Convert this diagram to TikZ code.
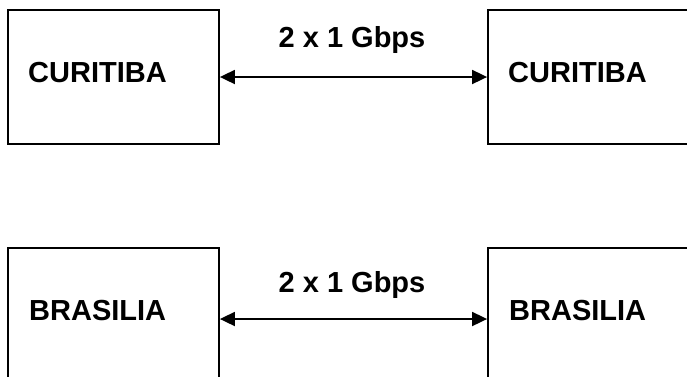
\documentclass[tikz,border=0pt]{standalone}
\usepackage{fontspec}
\setmainfont{Liberation Sans}
\usetikzlibrary{arrows.meta}
\begin{document}
\begin{tikzpicture}[x=1pt,y=-1pt,
  site/.style={draw=black,line width=1.8pt,rectangle,inner sep=0pt,minimum width=211pt},
  lbl/.style={font=\fontsize{29}{34}\selectfont\bfseries,inner sep=0pt,anchor=base west},
  link/.style={line width=1.8pt,{Triangle[length=15pt,width=14pt]}-{Triangle[length=15pt,width=14pt]}},
  speed/.style={font=\fontsize{29}{34}\selectfont\bfseries,inner sep=0pt,anchor=base}]
\useasboundingbox (0,0) rectangle (687,376);
\clip (0,0) rectangle (687,376);
\fill[white] (0,0) rectangle (687,376);
% top row
\node[site,minimum height=134pt] (lt) at (113.5,77) {};
\node[site,minimum height=134pt] (rt) at (593.5,77) {};
\node[lbl] (ltt) at (28,82) {CURITIBA};
\node[lbl] (rtt) at (508,82) {CURITIBA};
\draw[link] (lt.east) -- (rt.west);
\node[speed] (st) at (352,47) {2 x 1 Gbps};
% bottom row
\node[site,minimum height=142pt] (lb) at (113.5,319) {};
\node[site,minimum height=142pt] (rb) at (593.5,319) {};
\node[lbl] (lbt) at (29,320.5) {BRASILIA};
\node[lbl] (rbt) at (509,320.5) {BRASILIA};
\draw[link] (lb.east) -- (rb.west);
\node[speed] (sb) at (352,292) {2 x 1 Gbps};
\end{tikzpicture}
\end{document}
